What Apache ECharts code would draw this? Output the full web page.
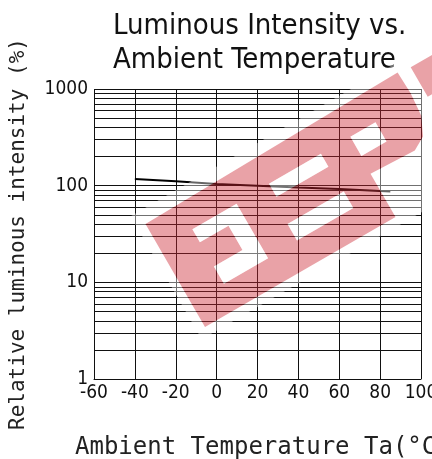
<!DOCTYPE html>
<html>
<head>
<meta charset="utf-8">
<script src="https://cdn.jsdelivr.net/npm/echarts@6/dist/echarts.min.js"></script>
<style>
  html, body { margin: 0; padding: 0; background: #fff; }
  #chart { width: 432px; height: 459px; }
</style>
</head>
<body>
<div id="chart"></div>
<script>
// curve
const temps = [-40, -20, 0, 20, 40, 60, 85];
const intensity = [117, 111, 104, 100, 96, 92.5, 87];
// minor horizontal grid lines of the log paper
const minorGrid = [2, 3, 4, 5, 6, 7, 8, 9, 20, 30, 40, 50, 60, 70, 80, 90, 200, 300, 400, 500, 600, 700, 800, 900];

const narrow = '"Liberation Sans Narrow", "DejaVu Sans Condensed", "Liberation Sans", sans-serif';
const mono = '"DejaVu Sans Mono", monospace';

// watermark (decoration, not data): band in a rotated frame
const ox = 205, oy = 327, cs = Math.cos(Math.PI / 6), sn = Math.sin(Math.PI / 6);
function pt(s, t) {
    return [ox + cs * s - sn * t, oy - sn * s - cs * t];
}
function poly(list) {
    return list.map((p, i) => {
        const q = pt(p[0], p[1]);
        return (i ? 'L' : 'M') + q[0].toFixed(1) + ' ' + q[1].toFixed(1);
    }).join(' ') + ' Z';
}
const outer = [[0, 0], [220, 0], [220, 50], [270, 48], [284, 56], [293, 75], [295, 100], [294, 124], [0, 119]];
const extra = [[308, 88], [345, 88], [345, 122], [308, 122]];
const holes = [
    [[38, 28], [89, 28], [89, 91], [38, 91], [38, 76], [71, 76], [71, 48], [38, 48]],
    [[127, 77], [187, 77], [187, 92], [127, 92]],
    [[123, 29], [188, 29], [188, 48], [123, 48]],
    [[221, 70], [250, 70], [250, 92], [221, 92]]
];
const glowBox = [[-9, -9], [355, -9], [355, 133], [-9, 133]];
const markPath = poly(outer) + ' ' + holes.map(h => poly(h.slice().reverse())).join(' ') + ' ' + poly(extra);
const glowPath = poly(glowBox) + ' ' + poly(outer.slice().reverse()) + ' ' + poly(extra.slice().reverse());

const chart = echarts.init(document.getElementById('chart'));
chart.setOption({
    animation: false,
    title: {
        text: 'Luminous Intensity vs.\nAmbient Temperature',
        left: 108,
        top: 4,
        textStyle: {
            fontFamily: narrow,
            fontWeight: 'normal',
            fontSize: 29,
            lineHeight: 34,
            color: '#111'
        }
    },
    grid: {
        left: 94,
        right: 11,
        top: 89,
        bottom: 80,
        outerBoundsMode: 'none'
    },
    xAxis: {
        type: 'value',
        min: -60,
        max: 100,
        interval: 20,
        name: 'Ambient Temperature Ta(°C)',
        nameLocation: 'start',
        nameGap: 0,
        nameTextStyle: {
            fontFamily: mono,
            fontSize: 24,
            color: '#222',
            align: 'left',
            verticalAlign: 'top',
            padding: [57, 0, 0, -19]
        },
        axisLine: { show: true, lineStyle: { color: '#111', width: 1 } },
        axisTick: { show: false },
        axisLabel: {
            margin: 5,
            fontFamily: narrow,
            fontSize: 19,
            color: '#111'
        },
        splitLine: { show: true, lineStyle: { color: '#111', width: 1 } }
    },
    yAxis: {
        type: 'log',
        logBase: 10,
        min: 1,
        max: 1000,
        name: 'Relative luminous intensity (%)',
        nameLocation: 'middle',
        nameGap: 65,
        nameRotate: 90,
        nameTextStyle: {
            fontFamily: mono,
            fontSize: 21,
            color: '#222'
        },
        axisLine: { show: false },
        axisTick: { show: false },
        axisLabel: {
            margin: 6,
            fontFamily: narrow,
            fontSize: 19,
            color: '#111',
            formatter: v => String(v)
        },
        splitLine: { show: true, lineStyle: { color: '#111', width: 1 } }
    },
    series: [{
        type: 'line',
        data: temps.map((t, i) => [t, intensity[i]]),
        showSymbol: false,
        lineStyle: { color: '#000', width: 2 },
        markLine: {
            silent: true,
            symbol: 'none',
            label: { show: false },
            lineStyle: { color: '#111', width: 1, type: 'solid' },
            data: minorGrid.map(v => ({ yAxis: v }))
        }
    }, {
        type: 'custom',
        coordinateSystem: 'none',
        silent: true,
        z: 100,
        data: [[0]],
        renderItem: () => ({
            type: 'group',
            children: [{
                type: 'path',
                shape: { pathData: glowPath },
                style: { fill: 'rgba(255,255,255,0.4)' }
            }, {
                type: 'path',
                shape: { pathData: markPath },
                style: { fill: 'rgba(205,40,50,0.43)' }
            }].concat(holes.map(h => ({
                type: 'path',
                shape: { pathData: poly(h) },
                style: { fill: 'rgba(255,255,255,0.45)' }
            })))
        })
    }]
});
</script>
</body>
</html>
